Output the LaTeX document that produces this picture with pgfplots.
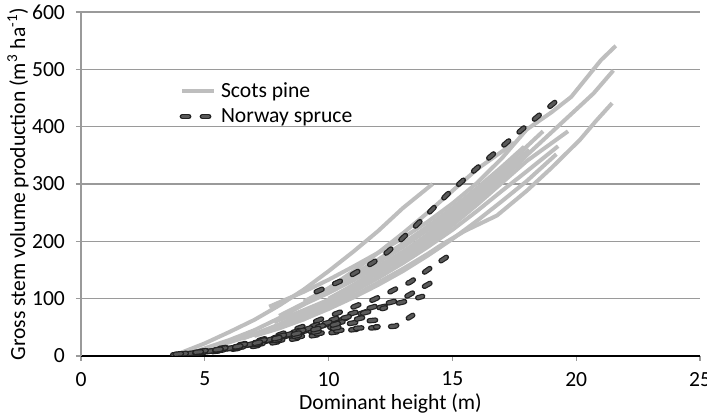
\documentclass[border=0pt]{standalone}
\usepackage{fontspec}
\setmainfont{Carlito}
\usepackage{pgfplots}
\pgfplotsset{compat=1.18}
\definecolor{pinec}{HTML}{BEBEBE}
\definecolor{sprucein}{HTML}{595959}
\definecolor{spruceout}{HTML}{222222}
\definecolor{gridc}{HTML}{9A9A9A}
\pgfplotsset{
  pine/.style={pinec, line width=2pt, line join=round, forget plot},
  spruce/.style={spruceout, line width=2.7pt, line cap=round, line join=round,
    dash pattern=on 3.2pt off 6.8pt,
    postaction={draw=sprucein, line width=1.5pt, line cap=round, dash pattern=on 3.2pt off 6.8pt},
    forget plot},
}
\begin{document}
\begin{tikzpicture}[font=\fontsize{10.8}{13}\selectfont]
\begin{axis}[
  scale only axis, width=309.5pt, height=172pt,
  xmin=0, xmax=25, ymin=0, ymax=600,
  axis x line*=bottom, axis y line*=left,
  x axis line style={black, line width=1pt},
  y axis line style={gridc, line width=0.6pt},
  xtick={0,5,...,25}, ytick={0,100,...,600},
  ymajorgrids, grid style={gridc, line width=0.7pt},
  tick align=outside, major tick length=2.5pt,
  tick style={gridc, line width=0.6pt},
  /pgf/number format/assume math mode=true,
  xticklabel style={yshift=-2pt},
  yticklabel style={xshift=-2pt},
  xlabel={Dominant height (m)},
  ylabel={Gross stem volume production (m\textsuperscript{3} ha\textsuperscript{-1})},
  xlabel style={at={(axis description cs:0.5,-0.1366)}, anchor=center},
  ylabel style={at={(axis description cs:-0.1018,0.5)}, anchor=center, rotate=0},
  legend style={at={(axis description cs:0.149,0.82)}, anchor=north west, draw=none, fill=none,
    row sep=0pt, cells={anchor=west}},
  legend image code/.code={\draw[#1] (2.5pt,0pt) -- (18.5pt,0pt);},
]
% Scots pine
\addplot[pine] coordinates {(4.0,5) (5,22) (6,42) (7,63) (8,88) (9,116) (10,148) (11,182) (12,218) (13,258) (14.2,300)};
\addplot[pine] coordinates {(4.5,6) (6,28) (7,45) (8,66) (9,90) (10,118) (11,148) (12,180) (13,214) (14,250) (15,288) (16,326) (17.5,372)};
\addplot[pine] coordinates {(7.6,86) (9,112) (10,133) (11,156) (12,180) (13,206) (14,234) (15,266) (16,302) (17,345) (18,395) (19,425) (19.8,452) (21,516) (21.6,541)};
\addplot[pine] coordinates {(7.8,59) (9,80) (10,98) (11,120) (12,145) (13,172) (14,202) (15,235) (16,270) (17,308) (18,350) (19,390) (20,430) (20.7,458) (21.5,498)};
\addplot[pine] coordinates {(7.5,42) (9,64) (10,84) (11,105) (12,128) (13,152) (14,178) (14.6,195) (15.5,218) (16.8,245) (18,288) (19,328) (20.15,377) (20.8,410) (21.45,441)};
\addplot[pine] coordinates {(6,25) (7,38) (8,54) (9,72) (10,92) (11,114) (12,138) (13,165) (14,195) (15,228) (16,264) (17,302) (18,340) (19.67,392)};
\addplot[pine] coordinates {(6.5,30) (8,52) (9,70) (10,90) (11,112) (12,136) (13,162) (14,190) (15,220) (16,253) (17,288) (18,322) (19.27,366)};
\addplot[pine] coordinates {(7,35) (8,48) (9,64) (10,82) (11,102) (12,124) (13,148) (14,175) (15,204) (16,236) (17,270) (18,305) (19.2,352)};
\addplot[pine] coordinates {(8,70) (9,92) (10,114) (11,138) (12,163) (13,190) (14,220) (15,252) (16,287) (17,325) (18.66,392)};
\addplot[pine] coordinates {(8.5,80) (10,110) (11,132) (12,156) (13,182) (14,211) (15,243) (16,278) (17,315) (17.7,345)};
\addplot[pine] coordinates {(9,95) (10,118) (11,142) (12,168) (13,196) (14,226) (15,258) (16,293) (17,330) (17.9,365)};
\addplot[pine] coordinates {(5,12) (6,24) (7,38) (8,55) (9,75) (10,98) (11,123) (12,150) (13,180) (14,212) (15,247) (16,285) (16.9,322)};
\addplot[pine] coordinates {(10,100) (11,124) (12,150) (13,178) (14,208) (15,242) (16,278) (17,318) (18.1,360)};
\addplot[pinec, line width=2pt] coordinates {(30,0) (31,0)};
\addlegendentry{Scots pine}
% Norway spruce
\addplot[spruce] coordinates {(9.5,112) (10.5,131) (11.2,148) (11.8,163) (12.4,182) (13.4,222) (14.8,282) (16,328) (17,365) (18,402) (19.35,450)};
\addplot[spruce] coordinates {(4.0,3) (5,9) (6,16) (7,25) (8,37) (9,52) (9.8,66) (10.5,77) (11.2,89) (11.8,98) (12.4,110) (12.8,119) (13.3,129) (13.9,147) (14.4,162) (15.1,182)};
\addplot[spruce] coordinates {(3.8,2) (5,8) (6,14) (7,23) (8,34) (9,47) (10,61) (11,75) (12,88) (12.9,98) (13.6,115) (14.4,134)};
\addplot[spruce] coordinates {(4.2,3) (5,7) (6,13) (7,21) (8,31) (9,43) (10,56) (11,70) (12,84) (13.0,94) (13.8,104)};
\addplot[spruce] coordinates {(3.7,2) (5,6) (6,11) (7,17) (8,25) (9,33) (10,40) (11,46) (12,50) (12.7,52) (13.4,71)};
\addplot[spruce] coordinates {(4.5,4) (5.5,9) (6.5,16) (7.5,25) (8.5,35) (9.5,45) (10.5,54) (11.3,60) (12.0,63)};
\addplot[spruce] coordinates {(3.9,2) (5,6) (6,12) (7,19) (8,27) (9,35) (10,42) (11,48) (12.0,51)};
\addplot[spruce] coordinates {(4.3,4) (5.5,10) (6.5,17) (7.5,27) (8.5,39) (9.5,52) (10.5,65) (11.5,76) (12.3,84)};
\addplot[spruce] coordinates {(4.0,3) (5,9) (6,15) (7,24) (8,34) (9,45) (10,55) (11,63) (11.5,68)};
\addplot[spruce] coordinates {(4.6,5) (6,13) (7,20) (8,29) (9,38) (10,47) (10.8,53)};
\addplot[spruce] coordinates {(3.8,3) (5,8) (6,14) (7,22) (8,32) (9,42) (10,52) (10.5,58)};
\addplot[spruce, forget plot=false] coordinates {(30,0) (31,0)};
\addlegendentry{Norway spruce}
\end{axis}
\pgfresetboundingbox
\path ([shift={(-40.5pt,-29pt)}]current axis.south west) rectangle ([shift={(3.5pt,6pt)}]current axis.north east);
\end{tikzpicture}
\end{document}
